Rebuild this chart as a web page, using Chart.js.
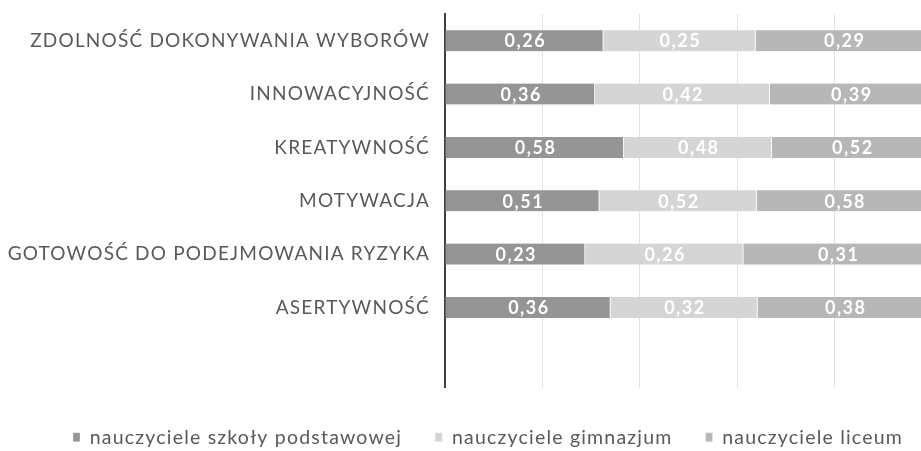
<!DOCTYPE html>
<html>
<head>
<meta charset="utf-8">
<script src="https://cdn.jsdelivr.net/npm/chart.js@4"></script>
<style>
  html, body { margin: 0; padding: 0; overflow: hidden; background: #fff; }
  #wrap { width: 932px; height: 451px; position: relative; }
</style>
</head>
<body>
<div id="wrap"><canvas id="chart"></canvas></div>
<script>
const categories = [
    'ZDOLNOŚĆ DOKONYWANIA WYBORÓW',
    'INNOWACYJNOŚĆ',
    'KREATYWNOŚĆ',
    'MOTYWACJA',
    'GOTOWOŚĆ DO PODEJMOWANIA RYZYKA',
    'ASERTYWNOŚĆ',
    ''
]
const seriesNames = ['nauczyciele szkoły podstawowej', 'nauczyciele gimnazjum', 'nauczyciele liceum']
const podstawowa = [0.26, 0.36, 0.58, 0.51, 0.23, 0.36, null]
const gimnazjum = [0.25, 0.42, 0.48, 0.52, 0.26, 0.32, null]
const liceum = [0.29, 0.39, 0.52, 0.58, 0.31, 0.38, null]
const colors = ['#959595', '#d5d5d5', '#b7b7b7']

const raw = [podstawowa, gimnazjum, liceum]
const spacing = '1.2px'

// 100% stacked: each bar scaled by its row total
function share(values) {
    return values.map((v, i) => {
        if (v == null) return null
        let total = podstawowa[i] + gimnazjum[i] + liceum[i]
        return v / total
    })
}

// the excel text is quite spread out, canvas letterSpacing gets close
const wideText = {
    id: 'wideText',
    beforeLayout(chart) { chart.ctx.letterSpacing = spacing },
    beforeDraw(chart) { chart.ctx.letterSpacing = spacing }
}

const valueLabels = {
    id: 'valueLabels',
    afterDatasetsDraw(chart) {
        const ctx = chart.ctx
        ctx.save()
        ctx.font = 'bold 18px Lato'
        ctx.letterSpacing = '1.5px'
        ctx.fillStyle = '#ffffff'
        ctx.textAlign = 'center'
        ctx.textBaseline = 'middle'
        chart.data.datasets.forEach((ds, d) => {
            chart.getDatasetMeta(d).data.forEach((bar, i) => {
                let v = raw[d][i]
                if (v == null) return
                let x = (bar.x + bar.base) / 2 + 1
                ctx.fillText(v.toFixed(2).replace('.', ','), x, bar.y + 1)
            })
        })
        ctx.restore()
    }
}

const shiftLegend = {
    id: 'shiftLegend',
    afterLayout(chart) {
        chart.legend.left += 22
        chart.legend.right += 22
        chart.legend.top += 6
        chart.legend.bottom += 6
    }
}

const config = {
    type: 'bar',
    data: {
        labels: categories,
        datasets: raw.map((values, d) => ({
            label: seriesNames[d],
            data: share(values),
            backgroundColor: colors[d],
            borderColor: '#ffffff',
            borderWidth: { left: 0, right: 1, top: 0, bottom: 0 },
            borderSkipped: false,
            barThickness: 21
        }))
    },
    options: {
        indexAxis: 'y',
        responsive: true,
        maintainAspectRatio: false,
        animation: false,
        layout: { padding: { top: 14, right: 0, left: 0, bottom: 0 } },
        plugins: {
            tooltip: { enabled: false },
            legend: {
                position: 'bottom',
                labels: {
                    color: '#595959',
                    font: { family: 'Lato', size: 19.5 },
                    boxWidth: 7,
                    boxHeight: 9,
                    padding: 33
                }
            }
        },
        scales: {
            x: {
                stacked: true,
                min: 0,
                max: 1,
                ticks: { display: false, stepSize: 0.2 },
                grid: { color: '#e2e2e2', drawTicks: false },
                border: { display: false },
                afterFit(scale) { scale.height = 1 }
            },
            y: {
                stacked: true,
                ticks: {
                    color: '#595959',
                    font: { family: 'Lato', size: 19 },
                    padding: 7
                },
                grid: { display: false },
                border: { color: '#404040', width: 2 },
                afterFit(scale) {
                    scale.width = 445
                    scale.paddingTop = 0
                    scale.paddingBottom = 0
                }
            }
        }
    },
    plugins: [wideText, valueLabels, shiftLegend]
}

new Chart(document.getElementById('chart'), config)
</script>
</body>
</html>
